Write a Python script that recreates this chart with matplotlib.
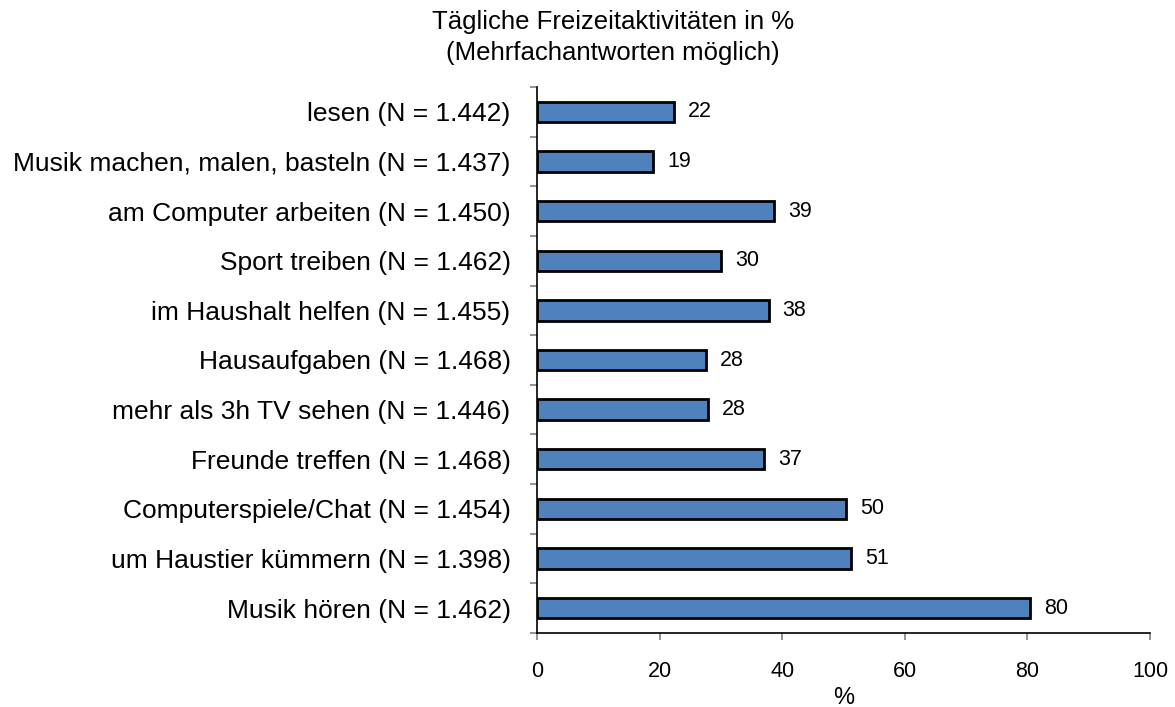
import matplotlib
matplotlib.use('Agg')
import matplotlib.pyplot as plt
import numpy as np

plt.rcParams['font.family'] = ['Liberation Sans', 'DejaVu Sans']

# bottom to top, as drawn
categories = [
    'Musik hören (N = 1.462)',
    'um Haustier kümmern (N = 1.398)',
    'Computerspiele/Chat (N = 1.454)',
    'Freunde treffen (N = 1.468)',
    'mehr als 3h TV sehen (N = 1.446)',
    'Hausaufgaben (N = 1.468)',
    'im Haushalt helfen (N = 1.455)',
    'Sport treiben (N = 1.462)',
    'am Computer arbeiten (N = 1.450)',
    'Musik machen, malen, basteln (N = 1.437)',
    'lesen (N = 1.442)',
]
values = [80.5, 51.2, 50.4, 37.1, 27.9, 27.6, 37.8, 30.0, 38.7, 19.0, 22.3]
value_labels = ['80', '51', '50', '37', '28', '28', '38', '30', '39', '19', '22']
x_ticks = [0, 20, 40, 60, 80, 100]

fig = plt.figure(figsize=(11.75, 7.07), dpi=100)
ax = fig.add_axes([537 / 1175, 1 - 633 / 707, 613 / 1175, 546 / 707])

y = np.arange(len(categories))
ax.barh(y, values, height=0.41, color='#4F81BD', edgecolor='black', linewidth=2)

for yi, v, lab in zip(y, values, value_labels):
    ax.annotate(lab, (v, yi), xytext=(10, 0), textcoords='offset points',
                va='center', ha='left', fontsize=15.5)

ax.set_xlim(0, 100)
ax.set_ylim(-0.5, len(categories) - 0.5)

ax.set_yticks(y)
ax.set_yticklabels(categories, fontsize=19)
ax.set_yticks(np.arange(-0.5, len(categories)), minor=True)
ax.tick_params(axis='y', which='major', length=0, pad=19)
ax.tick_params(axis='y', which='minor', length=5, color='#808080', width=1.2)

ax.set_xticks(x_ticks)
ax.set_xticklabels([str(t) for t in x_ticks], fontsize=15.5)
ax.tick_params(axis='x', length=5, color='#808080', width=1.2, pad=15)
ax.set_xlabel('%', fontsize=17, labelpad=4)

for s in ['top', 'right']:
    ax.spines[s].set_visible(False)
for s in ['left', 'bottom']:
    ax.spines[s].set_linewidth(1.2)
    ax.spines[s].set_color('black')

fig.text(613 / 1175, 1 - 10 / 707, 'Tägliche Freizeitaktivitäten in %\n(Mehrfachantworten möglich)',
         ha='center', va='top', fontsize=18.5, linespacing=1.35)

fig.savefig('out.png', dpi=100)
